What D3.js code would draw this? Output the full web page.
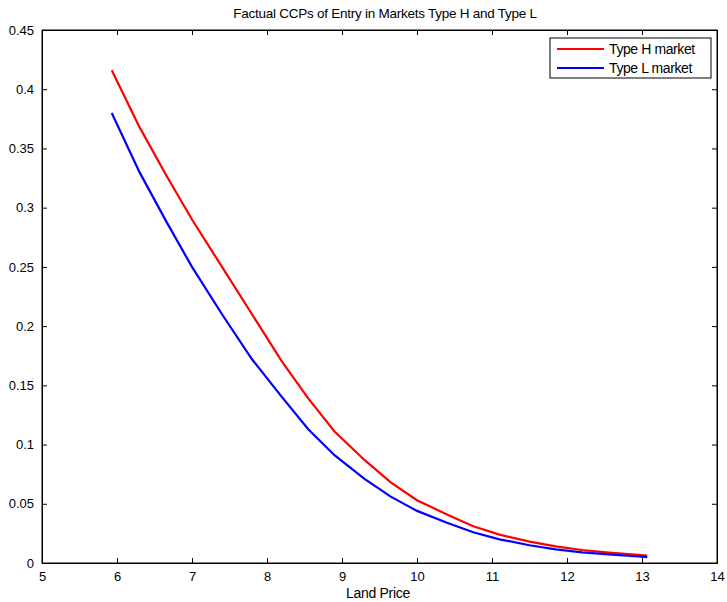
<!DOCTYPE html>
<html><head><meta charset="utf-8">
<script src="https://cdn.jsdelivr.net/npm/d3@7"></script>
<style>body{margin:0;background:#fff}svg{display:block}text{font-family:"Liberation Sans",Arial,sans-serif}</style>
</head><body>
<svg id="c" width="727" height="602"></svg>
<script>
const landPrice = [5.93,6.3,6.66,7.0,7.4,7.8,8.2,8.55,8.9,9.3,9.65,10.0,10.4,10.75,11.1,11.5,11.85,12.2,12.6,12.95,13.07];
const typeH = [0.416,0.368,0.327,0.29,0.25,0.21,0.17,0.139,0.111,0.087,0.068,0.053,0.041,0.031,0.024,0.018,0.014,0.011,0.0085,0.0068,0.0063];
const typeL = [0.38,0.33,0.288,0.25,0.21,0.172,0.14,0.113,0.091,0.071,0.056,0.044,0.034,0.026,0.02,0.015,0.0115,0.009,0.007,0.0055,0.005];
const xTicks = [5,6,7,8,9,10,11,12,13,14];
const yTicks = [0,0.05,0.1,0.15,0.2,0.25,0.3,0.35,0.4,0.45];
const seriesNames = ["Type H market","Type L market"];
const seriesColors = ["#ff0000","#0000ff"];
const title = "Factual CCPs of Entry in Markets Type H and Type L";
const xLabel = "Land Price";

const svg = d3.select("#c");
const L=42,R=717,T=30,B=563;
const x = d3.scaleLinear().domain([5,14]).range([L,R]);
const y = d3.scaleLinear().domain([0,0.45]).range([B,T]);

const fmt = d => d===0?"0":String(d);
const gb = svg.append("g").attr("transform",`translate(0,${B})`).call(d3.axisBottom(x).tickValues(xTicks).tickSizeInner(-5).tickSizeOuter(0).tickPadding(9).tickFormat(d=>d));
const gt = svg.append("g").attr("transform",`translate(0,${T})`).call(d3.axisTop(x).tickValues(xTicks).tickSizeInner(-5).tickSizeOuter(0).tickFormat(""));
const gl = svg.append("g").attr("transform",`translate(${L},0)`).call(d3.axisLeft(y).tickValues(yTicks).tickSizeInner(-5).tickSizeOuter(0).tickPadding(8).tickFormat(fmt));
const gr = svg.append("g").attr("transform",`translate(${R},0)`).call(d3.axisRight(y).tickValues(yTicks).tickSizeInner(-5).tickSizeOuter(0).tickFormat(""));
[gb,gt,gl,gr].forEach(g=>{
  g.selectAll("path").attr("stroke","#000").attr("stroke-width",1);
  g.selectAll("line").attr("stroke","#000").attr("stroke-width",1);
  g.selectAll("text").attr("font-size",13).attr("fill","#000").attr("font-family","Liberation Sans, Arial, sans-serif");
});
svg.append("rect").attr("x",L).attr("y",T).attr("width",R-L).attr("height",B-T).attr("fill","none").attr("stroke","#000");

const line = d3.line().x((d,i)=>x(landPrice[i])).y(d=>y(d));
[typeH,typeL].forEach((s,k)=>{
  svg.append("path").datum(s).attr("d",line).attr("fill","none").attr("stroke",seriesColors[k]).attr("stroke-width",2.2);
});

svg.append("text").attr("x",385).attr("y",18).attr("text-anchor","middle").attr("font-size",13.5).attr("letter-spacing","-0.25").text(title);
svg.append("text").attr("x",378).attr("y",598).attr("text-anchor","middle").attr("font-size",14).attr("letter-spacing","-0.3").text(xLabel);

const lg = svg.append("g");
lg.append("rect").attr("x",550).attr("y",38).attr("width",161).attr("height",40).attr("fill","#fff").attr("stroke","#000");
seriesNames.forEach((n,i)=>{
  const yy = 49 + i*19;
  lg.append("line").attr("x1",557).attr("x2",604).attr("y1",yy).attr("y2",yy).attr("stroke",seriesColors[i]).attr("stroke-width",2);
  lg.append("text").attr("x",609).attr("y",yy+5).attr("font-size",14).attr("letter-spacing","-0.4").text(n);
});
</script>
</body></html>
